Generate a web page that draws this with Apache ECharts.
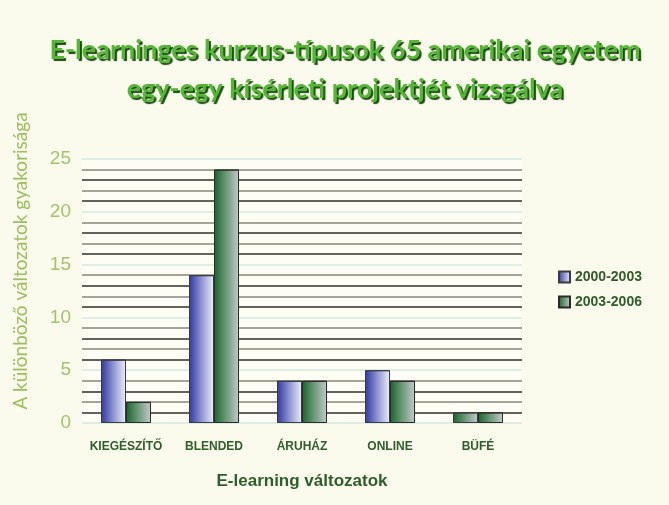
<!DOCTYPE html>
<html>
<head>
<meta charset="utf-8">
<script src="https://cdn.jsdelivr.net/npm/echarts@6/dist/echarts.min.js"></script>
<style>
	html, body { margin: 0; padding: 0; background: #fbfbed; }
	#chart { width: 669px; height: 505px; }
</style>
</head>
<body>
<div id="chart"></div>
<script>
	// adatok
	var categories = ['KIEGÉSZÍTŐ', 'BLENDED', 'ÁRUHÁZ', 'ONLINE', 'BÜFÉ'];
	var period1 = [6, 14, 4, 5, 1];
	var period2 = [2, 24, 4, 4, 1];
	var seriesNames = ['2000-2003', '2003-2006'];

	var blueFill = new echarts.graphic.LinearGradient(0, 0, 1, 0, [
		{ offset: 0, color: '#2f37a0' },
		{ offset: 0.5, color: '#8f95d2' },
		{ offset: 1, color: '#eef0f8' }
	]);
	var greenFill = new echarts.graphic.LinearGradient(0, 0, 1, 0, [
		{ offset: 0, color: '#16652a' },
		{ offset: 0.5, color: '#6f9a7a' },
		{ offset: 1, color: '#c4c9cc' }
	]);

	// az utolsó kék oszlop a képen zöldnek látszik
	var p1Data = period1.map(function(v, i) {
		if (i == period1.length - 1) return { value: v, itemStyle: { color: greenFill } };
		return v;
	});

	var chart = echarts.init(document.getElementById('chart'));
	chart.setOption({
		backgroundColor: '#fbfbed',
		title: {
			text: 'E-learninges kurzus-típusok 65 amerikai egyetem\negy-egy kísérleti projektjét vizsgálva',
			left: 340,
			textAlign: 'center',
			top: 26,
			textStyle: {
				fontFamily: 'Lato',
				fontWeight: 'bold',
				fontSize: 27,
				lineHeight: 39,
				color: '#52b832',
				textShadowColor: '#1d4a12',
				textShadowOffsetX: 2,
				textShadowOffsetY: 2,
				textShadowBlur: 1
			}
		},
		legend: {
			orient: 'vertical',
			left: 553,
			top: 265,
			itemWidth: 11,
			itemHeight: 11,
			itemGap: 11,
			icon: 'rect',
			textStyle: { color: '#2e5e2a', fontWeight: 'bold', fontSize: 14, fontFamily: 'Liberation Sans' },
			data: seriesNames
		},
		grid: {
			left: 82,
			top: 159,
			width: 440,
			height: 264,
			show: true,
			backgroundColor: '#fdfdf3',
			borderWidth: 0
		},
		xAxis: {
			type: 'category',
			data: categories,
			name: 'E-learning változatok',
			nameLocation: 'middle',
			nameGap: 50,
			nameTextStyle: { color: '#2e5e2a', fontWeight: 'bold', fontSize: 17, fontFamily: 'Liberation Sans' },
			axisLine: { show: false },
			axisTick: { show: false },
			axisLabel: { interval: 0, color: '#2e5e2a', fontWeight: 'bold', fontSize: 12, margin: 18, fontFamily: 'Liberation Sans' }
		},
		yAxis: {
			type: 'value',
			min: 0,
			max: 25,
			interval: 1,
			name: 'A különböző változatok gyakorisága',
			nameLocation: 'middle',
			nameGap: 52,
			nameTextStyle: { color: '#9cbf5e', fontSize: 19, fontFamily: 'Lato', padding: [0, 0, 0, 60] },
			axisLine: { show: false },
			axisTick: { show: false },
			axisLabel: {
				color: '#a3c46c',
				fontSize: 19,
				margin: 11,
				fontFamily: 'Liberation Sans',
				formatter: function(v) { return v % 5 == 0 ? v : ''; }
			},
			splitLine: {
				lineStyle: {
					color: ['#d2e8e0', '#2f2f28', '#86867a', '#2f2f28', '#86867a'],
					width: 1.5
				}
			}
		},
		series: [{
				name: seriesNames[0],
				type: 'bar',
				data: p1Data,
				barWidth: 25,
				barGap: '0%',
				itemStyle: { color: blueFill, borderColor: '#3a3a40', borderWidth: 1 }
			},
			{
				name: seriesNames[1],
				type: 'bar',
				data: period2,
				barWidth: 25,
				itemStyle: { color: greenFill, borderColor: '#2a2a2a', borderWidth: 1 }
			}
		]
	});
</script>
</body>
</html>
